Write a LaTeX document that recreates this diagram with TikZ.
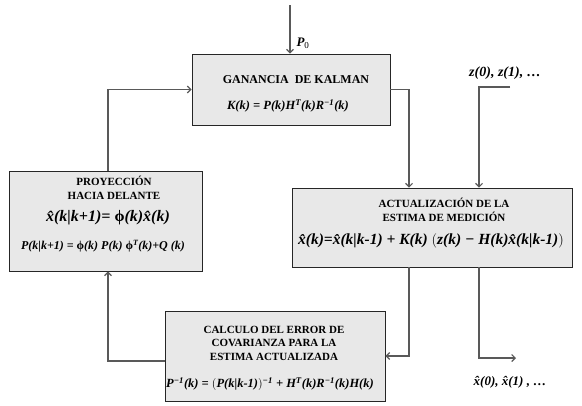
\documentclass[tikz,border=0pt]{standalone}
\usepackage{fontspec}
\setmainfont{Liberation Serif}
\usetikzlibrary{arrows.meta,positioning}
\newcommand{\xh}{\^{x}}
\newcommand{\fik}{\textup{ϕ}}
\newcommand{\sq}[1]{\textsuperscript{#1}}
\newcommand{\fs}[1]{\fontsize{#1}{#1}\selectfont}

\begin{document}
\begin{tikzpicture}[->,>={Straight Barb[length=3.5pt,width=7pt]},x=1pt,y=-1pt,
  block/.style={draw=black!85,fill=black!9,line width=0.9pt,inner sep=0pt},
  title/.style={align=center,font=\fontsize{11}{13.5}\selectfont\bfseries,inner sep=0pt},
  formula/.style={font=\bfseries\itshape,inner sep=0pt},
  wire/.style={draw=black!65,line width=1.1pt}]
  \useasboundingbox (0,0) rectangle (582,405);

  % The blocks
  \node [block,minimum width=198pt,minimum height=71pt] at (291,89.5) (kal) {};
  \node [block,minimum width=193pt,minimum height=100pt] at (105.5,221) (proy) {};
  \node [block,minimum width=280pt,minimum height=79pt] at (432,227.5) (act) {};
  \node [block,minimum width=220pt,minimum height=90pt] at (275,356) (calc) {};

  % Block texts
  \node [title,font=\fontsize{12}{14}\selectfont\bfseries] at (296,80) (kalT) {GANANCIA\ \ DE KALMAN};
  \node [formula] at (288,106) (kalF) {\fs{12.5}K(k) = P(k)H\sq{T}(k)R\sq{−1}(k)};
  \node [title] at (114,188) (proyT) {PROYECCIÓN\\HACIA DELANTE};
  \node [formula] at (108,218) (proyF) {\fs{16}\xh(k|k+1)= \fik(k)\xh(k)};
  \node [formula] at (103,246) (proyG) {\fs{12}P(k|k+1) = \fik(k) P(k) \fik\sq{T}(k)+Q (k)};
  \node [title] at (444,210) (actT) {ACTUALIZACIÓN DE LA\\ESTIMA DE MEDICIÓN};
  \node [formula] at (431,241) (actF)
    {\fs{15.5}\xh(k)=\xh(k|k-1) + K(k) $\Bigl($z(k) − H(k)\xh(k|k-1)$\Bigr)$};
  \node [title] at (274,343) (calcT) {CALCULO DEL ERROR DE\\COVARIANZA PARA LA\\ESTIMA ACTUALIZADA};
  \node [formula] at (270,384) (calcF)
    {\fs{12.5}P\sq{−1}(k) = $\bigl($P(k|k-1)$\bigr)$\sq{−1} + H\sq{T}(k)R\sq{−1}(k)H(k)};

  % Free ends and columns
  \coordinate (p0) at (290,5);
  \coordinate (zin) at (510,87);
  \coordinate (xout) at (516,358);
  \coordinate (c0) at (108,0);
  \coordinate (c1) at (409,0);
  \coordinate (c2) at (479,0);

  % Outside labels
  \node [formula] at (303,43) (lp0) {\fs{13}P\textsubscript{\upshape\mdseries 0}};
  \node [formula] at (505,73) (lz) {\fs{14}z(0), z(1), …};
  \node [formula] at (510,382) (lx) {\fs{13}\xh(0), \xh(1) , …};

  % Connectors
  \draw [wire] (p0) -- (p0 |- kal.north);
  \draw [wire] (kal.east) -| (c1 |- act.north);
  \draw [wire] (zin) -| (c2 |- act.north);
  \draw [wire] (c1 |- act.south) |- (calc.east);
  \draw [wire] (c2 |- act.south) |- (xout);
  \draw [wire] ([yshift=-5pt]calc.west) -| (c0 |- proy.south);
  \draw [wire] (c0 |- proy.north) |- (kal.west);

\end{tikzpicture}
\end{document}
